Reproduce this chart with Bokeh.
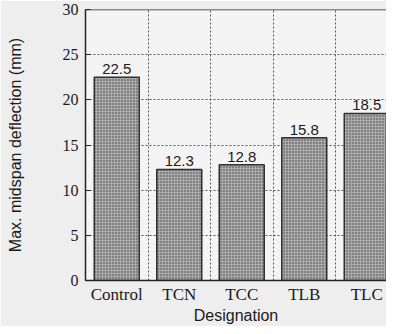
from bokeh.plotting import figure
from bokeh.models import ColumnDataSource, FixedTicker, Span, Range1d
from bokeh.core.properties import value
from bokeh.embed import file_html
from bokeh.resources import INLINE

categories = ["Control", "TCN", "TCC", "TLB", "TLC"]
deflection = [22.5, 12.3, 12.8, 15.8, 18.5]
value_labels = ["22.5", "12.3", "12.8", "15.8", "18.5"]
y_ticks = [0, 5, 10, 15, 20, 25, 30]

positions = [i + 0.5 for i in range(len(categories))]
boundaries = [i + 1 for i in range(len(categories))]

src = ColumnDataSource(dict(x=positions, top=deflection, lab=value_labels))

p = figure(width=386, height=326, output_backend="svg", toolbar_location=None,
           x_range=Range1d(0, 4.816), y_range=Range1d(0, 30),
           min_border_left=85, min_border_right=0, min_border_top=9, min_border_bottom=43)
p.background_fill_color = "#f4f4f4"
p.border_fill_color = "#eeeeee"
p.outline_line_color = None

p.vbar(x="x", top="top", width=0.72, bottom=0, source=src,
       fill_color="#aaaaaa", line_color="#303030", line_width=1.5,
       hatch_pattern="dot", hatch_scale=3, hatch_color="#404040", hatch_weight=1)

p.text(x="x", y="top", text="lab", source=src, text_align="center", text_baseline="bottom",
       y_offset=-3, text_font=value("Liberation Sans"), text_font_size="15px", text_color="#1a1a1a")

p.add_layout(Span(location=30, dimension="width", line_color="#222222", line_width=1.5))

# grids
p.xgrid.ticker = FixedTicker(ticks=boundaries)
p.ygrid.ticker = FixedTicker(ticks=y_ticks[1:-1])
for g in (p.xgrid, p.ygrid):
    g.grid_line_color = "#555555"
    g.grid_line_dash = "2 2"
    g.grid_line_width = 1

# x axis
p.xaxis.ticker = FixedTicker(ticks=positions)
p.xaxis.major_label_overrides = {pos: c for pos, c in zip(positions, categories)}
p.xaxis.major_tick_line_color = None
p.xaxis.major_tick_in = 0
p.xaxis.major_tick_out = 0
p.xaxis.minor_tick_line_color = None
p.xaxis.axis_line_color = "#222222"
p.xaxis.axis_line_width = 1.5
p.xaxis.major_label_text_font = "Liberation Serif"
p.xaxis.major_label_text_font_size = "17px"
p.xaxis.major_label_text_color = "#1a1a1a"
p.xaxis.major_label_standoff = 4
p.xaxis.axis_label = "Designation"
p.xaxis.axis_label_text_font = "Liberation Sans"
p.xaxis.axis_label_text_font_style = "normal"
p.xaxis.axis_label_text_font_size = "16px"
p.xaxis.axis_label_text_color = "#1a1a1a"
p.xaxis.axis_label_standoff = 0

# y axis
p.yaxis.ticker = FixedTicker(ticks=y_ticks)
p.yaxis.major_tick_in = 5
p.yaxis.major_tick_out = 0
p.yaxis.major_tick_line_color = "#222222"
p.yaxis.minor_tick_line_color = None
p.yaxis.axis_line_color = "#222222"
p.yaxis.axis_line_width = 1.5
p.yaxis.major_label_text_font = "Liberation Serif"
p.yaxis.major_label_text_font_size = "16px"
p.yaxis.major_label_text_color = "#1a1a1a"
p.yaxis.major_label_standoff = 7
p.yaxis.axis_label = "Max. midspan deflection (mm)"
p.yaxis.axis_label_text_font = "Liberation Sans"
p.yaxis.axis_label_text_font_style = "normal"
p.yaxis.axis_label_text_font_size = "16px"
p.yaxis.axis_label_text_color = "#1a1a1a"
p.yaxis.axis_label_standoff = 36

open("out.html", "w").write(file_html(p, INLINE))
